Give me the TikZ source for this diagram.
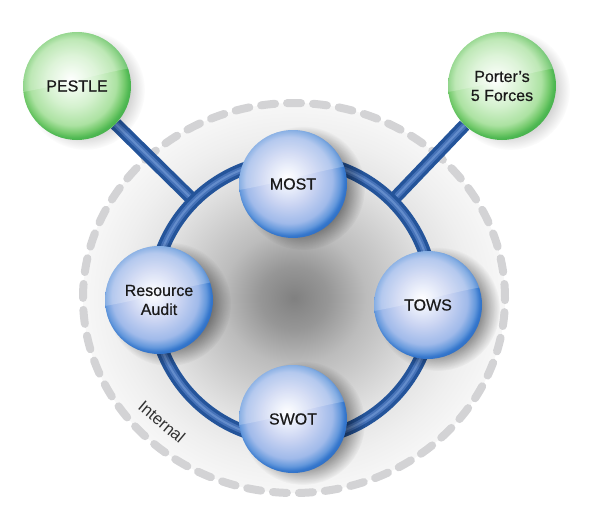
\documentclass[tikz,border=0pt]{standalone}
\usepackage{fontspec}
\setmainfont{Liberation Sans}
\newfontfamily\lblfont[FakeBold=0.6]{Liberation Sans}
\usetikzlibrary{fadings,calc}

% palette
\definecolor{textc}{RGB}{26,26,26}
\definecolor{dashgray}{RGB}{211,211,213}
\definecolor{tubedark}{RGB}{36,84,154}
\definecolor{tubemid}{RGB}{70,114,184}
\definecolor{tubelight}{RGB}{112,152,212}
% gray disc
\definecolor{dg0}{RGB}{128,128,128}
\definecolor{dg1}{RGB}{150,150,150}
\definecolor{dg2}{RGB}{188,188,188}
\definecolor{dg3}{RGB}{226,226,226}
\definecolor{dg4}{RGB}{239,239,239}
\definecolor{dg5}{RGB}{247,247,247}
% blue spheres
\definecolor{bs1}{RGB}{238,242,252}
\definecolor{bs2}{RGB}{202,212,242}
\definecolor{bs3}{RGB}{160,186,234}
\definecolor{bs4}{RGB}{100,152,220}
\definecolor{bs5}{RGB}{52,118,204}
\definecolor{bs6}{RGB}{40,102,190}
% green spheres
\definecolor{gs1}{RGB}{240,251,238}
\definecolor{gs2}{RGB}{212,241,206}
\definecolor{gs3}{RGB}{172,226,162}
\definecolor{gs4}{RGB}{116,202,108}
\definecolor{gs5}{RGB}{78,184,82}
\definecolor{gs6}{RGB}{60,168,68}

% radial shadings: the path's bounding box spans the inner 50bp square
\pgfdeclareradialshading{discshade}{\pgfpoint{0bp}{0bp}}{%
  color(0bp)=(dg0); color(4bp)=(dg1); color(8.5bp)=(dg2);
  color(16.5bp)=(dg3); color(21bp)=(dg4); color(25bp)=(dg5); color(50bp)=(dg5)}
\pgfdeclareradialshading{bluesphere}{\pgfpoint{-3bp}{3bp}}{%
  color(0bp)=(white); color(4bp)=(bs1); color(12bp)=(bs2);
  color(20bp)=(bs3); color(23.5bp)=(bs4); color(25.5bp)=(bs5); color(29bp)=(bs6);
  color(50bp)=(bs6)}
\pgfdeclareradialshading{greensphere}{\pgfpoint{-3bp}{3bp}}{%
  color(0bp)=(white); color(4bp)=(gs1); color(12bp)=(gs2);
  color(20bp)=(gs3); color(23.5bp)=(gs4); color(25.5bp)=(gs5); color(29bp)=(gs6);
  color(50bp)=(gs6)}

% soft drop shadow mask (white = opaque)
\pgfdeclareradialshading{shadowmask}{\pgfpoint{0bp}{0bp}}{%
  color(0bp)=(pgftransparent!55); color(17bp)=(pgftransparent!58);
  color(25bp)=(pgftransparent!100); color(50bp)=(pgftransparent!100)}
\pgfdeclarefading{softshadow}{\pgfuseshading{shadowmask}}

\pgfdeclarelayer{back}
\pgfdeclarelayer{mid}
\pgfsetlayers{back,mid,main}

\begin{document}
\begin{tikzpicture}[x=1pt,y=-1pt,
  tube/.style={preaction={draw=tubedark,line width=13pt},
               draw=tubemid,line width=6pt,
               postaction={draw=tubelight,line width=2pt,draw opacity=0.7}},
  dashring/.style={draw=dashgray,line width=8pt,line cap=round,
                   dash pattern=on 14pt off 12pt},
  dropshadow/.style={fill=black,path fading=softshadow,fit fading=true},
  sphere/.style={circle,minimum size=108pt,inner sep=0pt,align=center,
    font=\lblfont\fontsize{16}{19}\selectfont,text=textc,shade,
    path picture={\fill[white,fill opacity=0.22]
      ([yshift=-6pt]path picture bounding box.west)
      .. controls ([xshift=-10pt,yshift=2pt]path picture bounding box.center)
      and ([xshift=20pt,yshift=12pt]path picture bounding box.center)
      .. ([yshift=18pt]path picture bounding box.east)
      |- (path picture bounding box.north west) -- cycle;}},
  bluenode/.style={sphere,shading=bluesphere},
  greennode/.style={sphere,shading=greensphere},
  caption/.style={font=\fontsize{16.5}{18}\selectfont,text=textc!90}]

\useasboundingbox (0,0) rectangle (611,530);

% key points
\coordinate (dc) at (294,298);
\coordinate (rc) at (293,300);
\coordinate (jL) at (194,201);
\coordinate (jR) at (392,201);

% nodes
\node[greennode] (pestle) at (77,86) {PESTLE};
\node[greennode] (porter) at (502,86) {Porter’s\\5 Forces};
\node[bluenode] (most) at (293,184) {MOST};
\node[bluenode] (audit) at (159,300) {Resource\\Audit};
\node[bluenode] (tows) at (428,305) {TOWS};
\node[bluenode] (swot) at (293,419) {SWOT};

\node[caption,rotate=-40] (internal) at (162,422) {Internal};

% shaded internal area with dashed border
\begin{pgfonlayer}{back}
  \shade[shading=discshade] (dc) ellipse [x radius=211pt,y radius=195pt];
  \draw[dashring] (dc) ellipse [x radius=211pt,y radius=195pt];
\end{pgfonlayer}

% connectors, ring and drop shadows
\begin{pgfonlayer}{mid}
  \draw[tube] (pestle) -- (jL);
  \draw[tube] (porter) -- (jR);
  \draw[tube] (rc) circle [radius=140pt];
  \foreach \n in {most,audit,tows,swot}
    \path[dropshadow] ([shift={(10pt,-4pt)}]\n.center) circle [radius=62pt];
  \foreach \n in {pestle,porter}
    \path[dropshadow,fill opacity=0.5] ([shift={(8pt,-4pt)}]\n.center) circle [radius=60pt];
\end{pgfonlayer}
\end{tikzpicture}
\end{document}
